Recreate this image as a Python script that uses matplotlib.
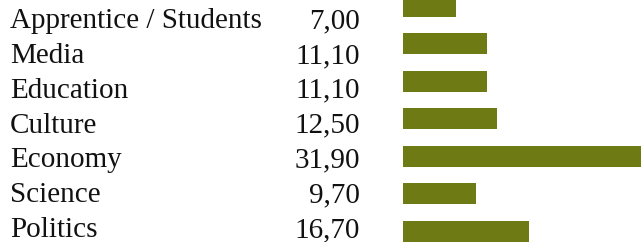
import matplotlib
matplotlib.use("Agg")
import matplotlib.pyplot as plt

categories = ["Apprentice / Students", "Media", "Education", "Culture",
              "Economy", "Science", "Politics"]
values = [7.00, 11.10, 11.10, 12.50, 31.90, 9.70, 16.70]

BAR_COLOR = "#6E7B15"
W, H = 641, 242

plt.rcParams["font.family"] = ["Liberation Serif", "DejaVu Serif"]

fig = plt.figure(figsize=(W / 100, H / 100), dpi=100)

# text table on the left
tax = fig.add_axes([0, 0, 1, 1])
tax.set_xlim(0, W)
tax.set_ylim(6.144, -0.813)
tax.axis("off")
for i, (cat, val) in enumerate(zip(categories, values)):
    tax.text(10, i, cat, fontsize=21, va="baseline", ha="left", color="#111111")
    tax.text(360, i, f"{val:.2f}".replace(".", ","), fontsize=21,
             va="baseline", ha="right", color="#111111")

# bars on the right
bax = fig.add_axes([402.5 / W, 0, 1 - 402.5 / W, 1])
bax.barh(range(len(categories)), values, height=0.56, color=BAR_COLOR)
bax.set_xlim(0, 31.5)
bax.set_ylim(6.293, -0.16)
bax.axis("off")

fig.savefig("out.png", dpi=100)
